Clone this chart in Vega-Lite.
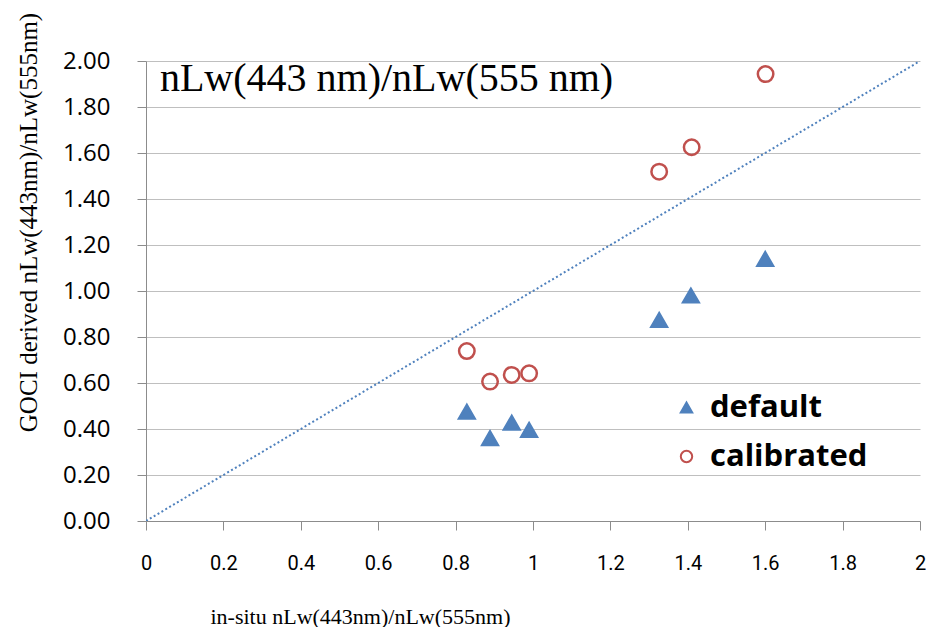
{
  "$schema": "https://vega.github.io/schema/vega-lite/v6.json",
  "autosize": "none",
  "width": 774,
  "height": 460,
  "padding": {"left": 146, "top": 61, "right": 13, "bottom": 106},
  "background": "white",
  "config": {
    "view": {"stroke": null},
    "axis": {"labelColor": "#000000", "titleFont": "Liberation Serif", "titleFontWeight": "normal", "titleColor": "#000000", "domainColor": "#8c8c8c", "tickColor": "#8c8c8c", "gridColor": "#bfbfbf", "tickSize": 9},
    "legend": {"labelFont": "Open Sans", "labelFontWeight": "bold", "labelFontSize": 31, "labelLimit": 400, "labelColor": "#000000", "symbolSize": 130, "symbolStrokeWidth": 2, "rowPadding": 17, "labelOffset": 8, "padding": 0}
  },
  "layer": [
    {
      "data": {"values": [{"insitu": 0, "goci": 0}, {"insitu": 2, "goci": 2}]},
      "mark": {"type": "line", "color": "#4f81bd", "strokeWidth": 2, "strokeDash": [2, 2.5], "clip": true},
      "encoding": {
        "x": {"field": "insitu", "type": "quantitative", "scale": {"domain": [0, 2], "nice": false},
          "axis": {"title": "in-situ nLw(443nm)/nLw(555nm)", "titleFontSize": 22, "titleX": 214, "titleY": 95, "titleBaseline": "middle", "titleAlign": "center",
            "values": [0, 0.2, 0.4, 0.6, 0.8, 1, 1.2, 1.4, 1.6, 1.8, 2], "format": ".1~f", "labelFont": "Roboto", "labelFontSize": 20, "labelPadding": 23, "grid": false, "labelFlush": false}},
        "y": {"field": "goci", "type": "quantitative", "scale": {"domain": [0, 2], "nice": false},
          "axis": {"title": "GOCI derived nLw(443nm)/nLw(555nm)", "titleFontSize": 25, "titleAngle": -90, "titleX": -118, "titleY": 161, "titleBaseline": "middle", "titleAlign": "center",
            "values": [0, 0.2, 0.4, 0.6, 0.8, 1, 1.2, 1.4, 1.6, 1.8, 2], "format": ".2f", "labelFont": "Open Sans", "labelFontSize": 24, "labelPadding": 27, "labelAlign": "right", "grid": true, "labelFlush": false}}
      }
    },
    {
      "data": {"values": [
        {"insitu": 0.829, "goci": 0.475, "type": "default"},
        {"insitu": 0.889, "goci": 0.36, "type": "default"},
        {"insitu": 0.945, "goci": 0.427, "type": "default"},
        {"insitu": 0.99, "goci": 0.396, "type": "default"},
        {"insitu": 1.326, "goci": 0.874, "type": "default"},
        {"insitu": 1.408, "goci": 0.98, "type": "default"},
        {"insitu": 1.6, "goci": 1.139, "type": "default"},
        {"insitu": 0.829, "goci": 0.739, "type": "calibrated"},
        {"insitu": 0.889, "goci": 0.606, "type": "calibrated"},
        {"insitu": 0.945, "goci": 0.635, "type": "calibrated"},
        {"insitu": 0.99, "goci": 0.642, "type": "calibrated"},
        {"insitu": 1.326, "goci": 1.519, "type": "calibrated"},
        {"insitu": 1.41, "goci": 1.625, "type": "calibrated"},
        {"insitu": 1.601, "goci": 1.943, "type": "calibrated"}
      ]},
      "mark": {"type": "point", "strokeWidth": 2.5, "opacity": 1, "size": 240},
      "encoding": {
        "x": {"field": "insitu", "type": "quantitative"},
        "y": {"field": "goci", "type": "quantitative"},
        "shape": {"field": "type", "type": "nominal", "scale": {"domain": ["default", "calibrated"], "range": ["triangle-up", "circle"]}, "title": null,
          "legend": {"orient": "none", "legendX": 525, "legendY": 331}},
        "fill": {"field": "type", "type": "nominal", "scale": {"domain": ["default", "calibrated"], "range": ["#4f81bd", "transparent"]}, "title": null,
          "legend": {"orient": "none", "legendX": 525, "legendY": 331}},
        "stroke": {"field": "type", "type": "nominal", "scale": {"domain": ["default", "calibrated"], "range": ["#4f81bd", "#c0504d"]}, "title": null,
          "legend": {"orient": "none", "legendX": 525, "legendY": 331}}
      }
    },
    {
      "data": {"values": [{"label": "nLw(443 nm)/nLw(555 nm)"}]},
      "mark": {"type": "text", "font": "Liberation Serif", "fontSize": 40, "align": "left", "baseline": "alphabetic", "color": "#000000"},
      "encoding": {
        "text": {"field": "label"},
        "x": {"datum": 0.036},
        "y": {"datum": 1.87}
      }
    }
  ]
}
